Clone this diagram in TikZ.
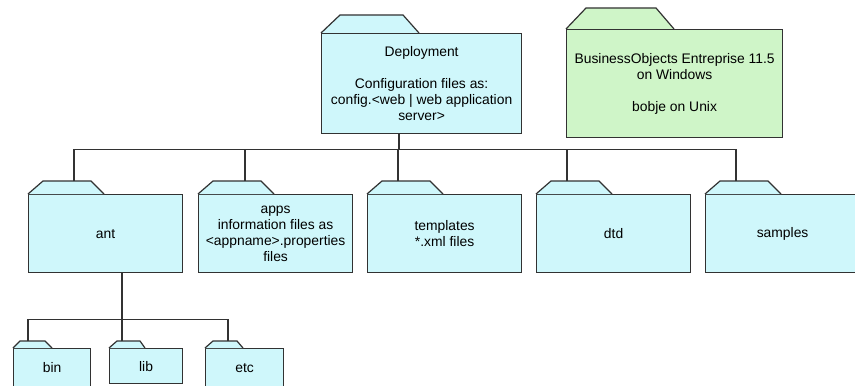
\documentclass[tikz,border=0pt]{standalone}
\usepackage{fontspec}
\setmainfont{Liberation Sans}
\usetikzlibrary{calc}
\definecolor{cyanfill}{RGB}{207,247,251}
\definecolor{greenfill}{RGB}{207,245,200}
\definecolor{linegray}{RGB}{50,50,50}
\newcommand{\foldertab}[6]{%
  \draw[tabline,fill=#6] (#1.north west) -- ($(#1.north west)+(#2,-#5)$) -- ($(#1.north west)+(#3,-#5)$) -- ($(#1.north west)+(#4,0)$);}
\begin{document}
\begin{tikzpicture}[x=0.75pt,y=-0.75pt,
  tabline/.style={draw=linegray,line width=0.9pt,line join=miter},
  folder/.style={draw=linegray,line width=0.9pt,fill=cyanfill,anchor=north west,inner sep=0pt,align=center,
    font=\fontsize{10.4}{12}\selectfont},
  conn/.style={draw=linegray,line width=0.9pt}]
\useasboundingbox (0,0) rectangle (855,385);
\fill[white] (0,0) rectangle (855,385);
\clip (0,0) rectangle (855,385);
% top level
\node[folder,minimum width=150pt,minimum height=75pt] (dep) at (321,33)
  {Deployment\\[12pt]Configuration files as:\\config.<web | web application\\server>};
\foldertab{dep}{19}{82}{98}{18}{cyanfill}
\node[folder,fill=greenfill,minimum width=162pt,minimum height=81pt] (boe) at (566,29)
  {BusinessObjects Entreprise 11.5\\on Windows\\[12pt]bobje on Unix};
\foldertab{boe}{20}{90}{108}{21}{greenfill}
% second row
\node[folder,minimum width=115.5pt,minimum height=58.5pt] (ant) at (28,194) {ant};
\node[folder,minimum width=115.5pt,minimum height=58.5pt] (apps) at (198,194)
  {apps\\information files as\\<appname>.properties\\files};
\node[folder,minimum width=115.5pt,minimum height=58.5pt] (tpl) at (367,194)
  {templates\\*.xml files};
\node[folder,minimum width=115.5pt,minimum height=58.5pt] (dtd) at (536,194) {dtd};
\node[folder,minimum width=115.5pt,minimum height=58.5pt] (smp) at (705,194) {samples};
\foreach \n in {ant,apps,tpl,dtd,smp}{\foldertab{\n}{15}{63}{76}{13}{cyanfill}}
% third row
\node[folder,minimum width=57.75pt,minimum height=28.5pt] (bin) at (13,348) {bin};
\node[folder,minimum width=54.75pt,minimum height=26.25pt] (lib) at (109,348) {lib};
\node[folder,minimum width=58.5pt,minimum height=28.5pt] (etc) at (205,348) {etc};
\foldertab{bin}{7}{32}{39}{7}{cyanfill}
\foldertab{lib}{8}{31}{36}{7}{cyanfill}
\foldertab{etc}{8}{32}{38}{7}{cyanfill}
% connector points
\coordinate (dep-c) at ($(dep.south west)+(78,0)$);
\coordinate (ant-t) at ($(ant.north west)+(46,-13)$);
\coordinate (apps-t) at ($(apps.north west)+(47,-13)$);
\coordinate (tpl-t) at ($(tpl.north west)+(31,-13)$);
\coordinate (dtd-t) at ($(dtd.north west)+(31,-13)$);
\coordinate (smp-t) at ($(smp.north west)+(31,-13)$);
\coordinate (ant-c) at ($(ant.south west)+(94,0)$);
\coordinate (bin-t) at ($(bin.north west)+(15,-7)$);
\coordinate (lib-t) at ($(lib.north west)+(13,-7)$);
\coordinate (etc-t) at ($(etc.north west)+(23,-7)$);
\draw[conn] (dep-c) -- ++(0,15) coordinate (bus1);
\foreach \t in {ant-t,apps-t,tpl-t,dtd-t,smp-t}{\draw[conn] (\t) |- (bus1);}
\draw[conn] (ant-c) -- ++(0,46) coordinate (bus2);
\foreach \t in {bin-t,lib-t,etc-t}{\draw[conn] (\t) |- (bus2);}
\end{tikzpicture}
\end{document}
